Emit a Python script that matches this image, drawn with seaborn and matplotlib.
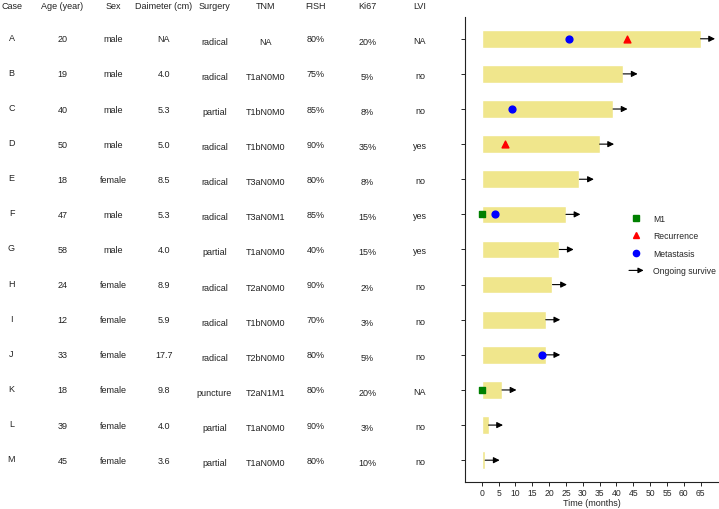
import numpy as np
import pandas as pd
import seaborn as sns
import matplotlib.pyplot as plt
import matplotlib.patches as mpatches
from matplotlib.lines import Line2D
from matplotlib.legend_handler import HandlerPatch
from matplotlib.transforms import blended_transform_factory

#%% data
cases = ['A', 'B', 'C', 'D', 'E', 'F', 'G', 'H', 'I', 'J', 'K', 'L', 'M']
age = ['20', '19', '40', '50', '18', '47', '58', '24', '12', '33', '18', '39', '45']
sex = ['male', 'male', 'male', 'male', 'female', 'male', 'male',
       'female', 'female', 'female', 'female', 'female', 'female']
diameter = ['NA', '4.0', '5.3', '5.0', '8.5', '5.3', '4.0', '8.9', '5.9', '17.7', '9.8', '4.0', '3.6']
surgery = ['radical', 'radical', 'partial', 'radical', 'radical', 'radical', 'partial',
           'radical', 'radical', 'radical', 'puncture', 'partial', 'partial']
tnm = ['NA', 'T1aN0M0', 'T1bN0M0', 'T1bN0M0', 'T3aN0M0', 'T3aN0M1', 'T1aN0M0',
       'T2aN0M0', 'T1bN0M0', 'T2bN0M0', 'T2aN1M1', 'T1aN0M0', 'T1aN0M0']
fish = ['80%', '75%', '85%', '90%', '80%', '85%', '40%', '90%', '70%', '80%', '80%', '90%', '80%']
ki67 = ['20%', '5%', '8%', '35%', '8%', '15%', '15%', '2%', '3%', '5%', '20%', '3%', '10%']
lvi = ['NA', 'no', 'no', 'yes', 'no', 'yes', 'yes', 'no', 'no', 'no', 'NA', 'no', 'no']
headers = ['Case', 'Age (year)', 'Sex', 'Daimeter (cm)', 'Surgery', 'TNM', 'FISH', 'Ki67', 'LVI']

months = [65, 42, 39, 35, 29, 25, 23, 21, 19, 19, 6, 2, 1]

m1_case = ['F', 'K']
m1_time = [0, 0]
rec_case = ['A', 'D']
rec_time = [43, 7]
met_case = ['A', 'C', 'F', 'J']
met_time = [26, 9, 4, 18]

df = pd.DataFrame({'case': cases, 'months': months})

#%% plot
sns.set_style('ticks')
plt.rcParams['font.family'] = ['Liberation Sans', 'DejaVu Sans']

fig = plt.figure(figsize=(7.19, 5.10), dpi=100)
ax = fig.add_axes([0.6467, 0.053, 0.352, 0.9117])

sns.barplot(data=df, x='months', y='case', orient='h', color='khaki',
            saturation=1, width=0.5, ax=ax)

pos = {c: i for i, c in enumerate(cases)}

# ongoing survive arrows
for i, m in enumerate(months):
    ax.annotate('', xy=(m + 4.3, i), xytext=(m, i),
                arrowprops=dict(arrowstyle='-|>', color='black', lw=0.8,
                                mutation_scale=9, shrinkA=0, shrinkB=0))

ax.scatter(m1_time, [pos[c] for c in m1_case], marker='s', color='green', s=24, zorder=3)
ax.scatter(rec_time, [pos[c] for c in rec_case], marker='^', color='red', s=24, zorder=3)
ax.scatter(met_time, [pos[c] for c in met_case], marker='o', color='blue', s=24, zorder=3)

ax.set_xlim(-5, 70.2)
ax.set_ylim(12.62, -0.62)
ax.set_xticks(np.arange(0, 70, 5))
ax.set_yticks(range(len(cases)))
ax.set_yticklabels([])
ax.set_ylabel('')
ax.set_xlabel('Time (months)', fontsize=6.5, labelpad=0.5)
ax.tick_params(axis='x', labelsize=6.2, length=3, width=0.7, pad=1.5)
ax.tick_params(axis='y', length=3, width=0.7)
sns.despine(ax=ax)
for s in ['left', 'bottom']:
    ax.spines[s].set_linewidth(0.8)
    ax.spines[s].set_color('#222222')

# table on the left, rows aligned with the bars
columns = [cases, age, sex, diameter, surgery, tnm, fish, ki67, lvi]
col_x = [11.5, 62.5, 113, 164, 214.5, 265.5, 316, 367.5, 420]   # pixel centres
col_dy = [-1.5, 0, 0, 0, 2.5, 2.5, 0, 2.5, 1.5]                  # pixel nudges
trans = blended_transform_factory(fig.transFigure, ax.transData)
px_per_row = 35.2
for col, x, dy in zip(columns, col_x, col_dy):
    for i, val in enumerate(col):
        ax.text(x / 719, i + dy / px_per_row, val, transform=trans,
                ha='center', va='center', fontsize=6.5, color='#222222', clip_on=False)
for h, x in zip(headers, col_x):
    fig.text(x / 719, 1 - 6.5 / 510, h, ha='center', va='center', fontsize=6.5, color='#222222')


# legend with an arrow handle
class ArrowHandler(HandlerPatch):
    def create_artists(self, legend, orig_handle, xdescent, ydescent,
                       width, height, fontsize, trans):
        y = height / 2 - ydescent
        p = mpatches.FancyArrowPatch((-xdescent, y), (width - xdescent, y),
                                     arrowstyle='-|>', mutation_scale=8,
                                     color='black', lw=0.8, shrinkA=0, shrinkB=0)
        p.set_transform(trans)
        return [p]


arrow_handle = mpatches.FancyArrowPatch((0, 0), (1, 0))
handles = [
    Line2D([], [], marker='s', color='green', ls='', markersize=4.5),
    Line2D([], [], marker='^', color='red', ls='', markersize=4.5),
    Line2D([], [], marker='o', color='blue', ls='', markersize=4.5),
    arrow_handle,
]
labels = ['M1', 'Recurrence', 'Metastasis', 'Ongoing survive']
fig.legend(handles, labels, loc='center left', bbox_to_anchor=(629 / 719, 1 - 245.5 / 510),
           frameon=False, fontsize=6.2, handlelength=1.7, handletextpad=1.1,
           labelspacing=1.0, borderpad=0, borderaxespad=0,
           handler_map={mpatches.FancyArrowPatch: ArrowHandler()})

plt.savefig('out.png', dpi=100)
